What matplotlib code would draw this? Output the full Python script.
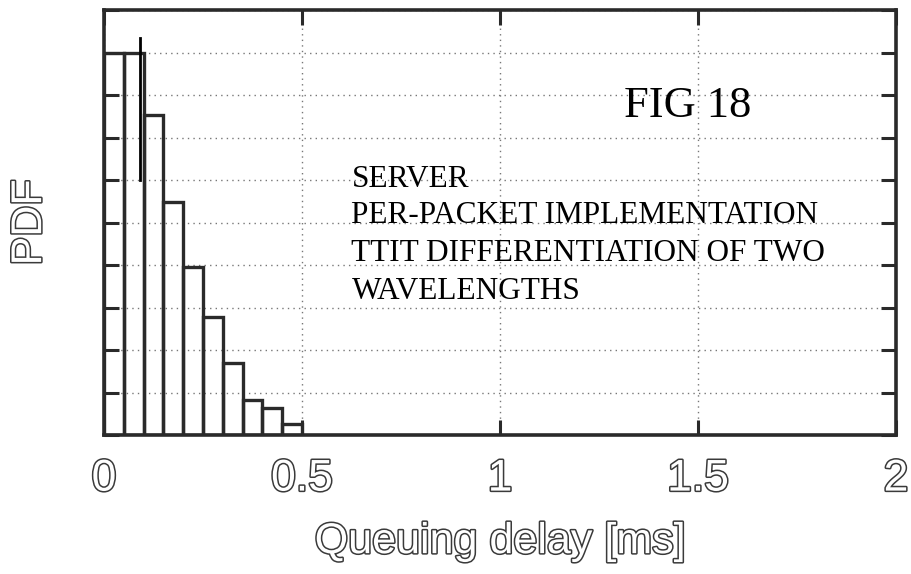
import numpy as np
import matplotlib
matplotlib.use("Agg")
import matplotlib.pyplot as plt
import matplotlib.patheffects as pe

# histogram of queuing delay (bin edges in ms, heights in grid units)
bin_edges = [0.0, 0.05, 0.10, 0.15, 0.20, 0.25, 0.30, 0.35, 0.40, 0.45, 0.50]
pdf_heights = [9.0, 9.0, 7.53, 5.48, 3.95, 2.78, 1.69, 0.82, 0.64, 0.25]

# thin vertical marker line inside the first bars
marker_x = 0.09
marker_y = [6.0, 9.35]

x_ticks = [0, 0.5, 1, 1.5, 2]
x_tick_labels = ["0", "0.5", "1", "1.5", "2"]
y_ticks = list(range(0, 11))

note_lines = ["SERVER",
              "PER-PACKET IMPLEMENTATION",
              "TTIT DIFFERENTIATION OF TWO",
              "WAVELENGTHS"]

fig = plt.figure(figsize=(9.12, 5.74), dpi=100)
ax = fig.add_axes([104 / 912, 1 - 435 / 574, 792 / 912, 425 / 574])

edge_col = "#2a2a2a"
widths = np.diff(bin_edges)
ax.bar(bin_edges[:-1], pdf_heights, width=widths, align="edge",
       fill=False, edgecolor=edge_col, linewidth=2.4, zorder=3)
ax.plot([marker_x, marker_x], marker_y, color="black", linewidth=2, zorder=4)

ax.set_xlim(0, 2)
ax.set_ylim(0, 10)
ax.set_xticks(x_ticks)
ax.set_yticks(y_ticks)
ax.set_yticklabels([])
ax.grid(True, linestyle=(0, (1, 3)), color="#777777", linewidth=1.0, zorder=1)
ax.tick_params(direction="in", length=11, width=2.2, color=edge_col,
               top=True, right=True, pad=17)
for s in ax.spines.values():
    s.set_linewidth(2.6)
    s.set_color(edge_col)

# hollow grey lettering for axis text
hollow = [pe.Stroke(linewidth=2.2, foreground="#3a3a3a"), pe.Normal()]
ax.set_xticklabels(x_tick_labels, fontsize=32, family="Liberation Sans",
                   color="white", path_effects=hollow)
ax.set_xlabel("Queuing delay [ms]", fontsize=31, family="Liberation Sans",
              color="white", path_effects=hollow)
ax.set_ylabel("PDF", fontsize=31, family="Liberation Sans",
              color="white", path_effects=hollow)
ax.xaxis.set_label_coords(0.5, -0.205)
ax.yaxis.set_label_coords(-0.068, 0.5)

ax.text(1.312, 7.48, "FIG 18", fontsize=32, family="Liberation Serif",
        va="baseline", ha="left", zorder=5)
note_y = [5.83, 4.99, 4.10, 3.20]
for yy, line in zip(note_y, note_lines):
    ax.text(0.625, yy, line, fontsize=22.5, family="Liberation Serif",
            va="baseline", ha="left", zorder=5)

fig.savefig("out.png", dpi=100)
